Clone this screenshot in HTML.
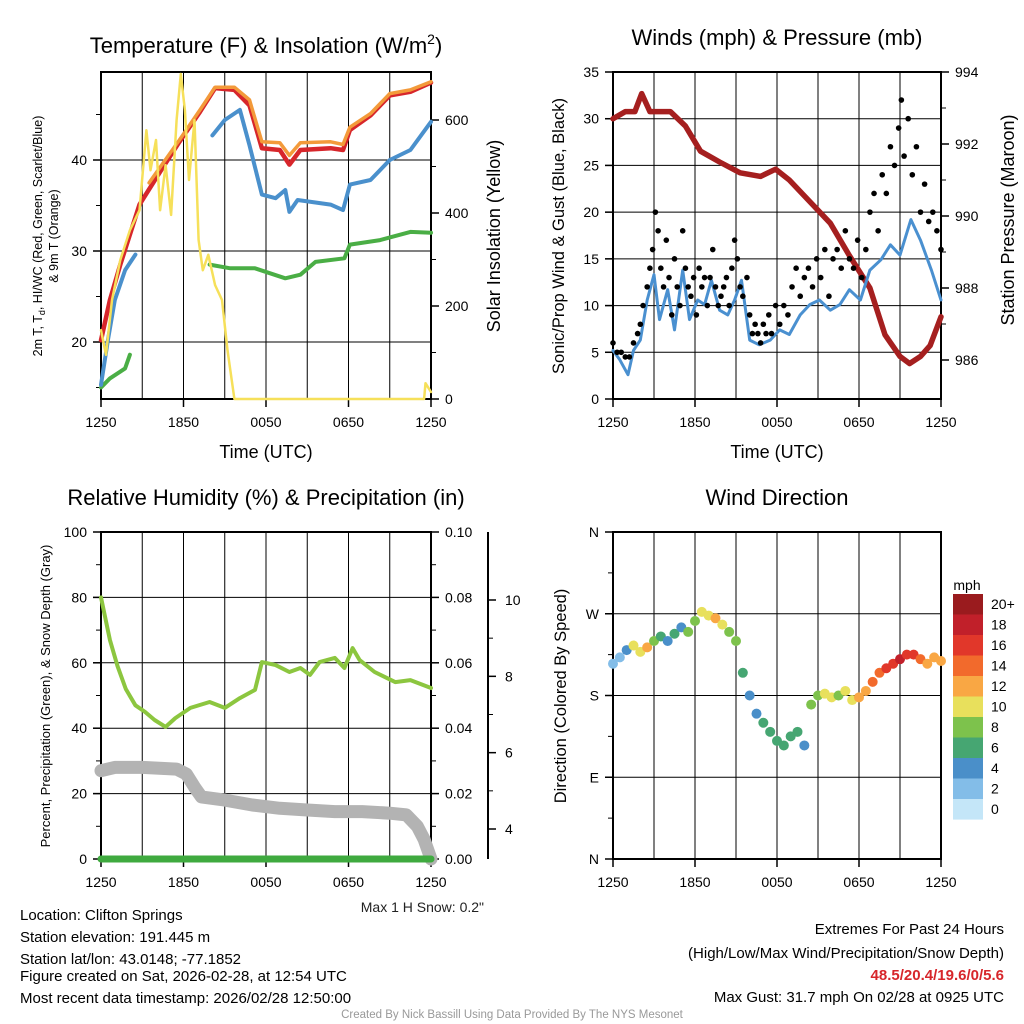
<!DOCTYPE html>
<html><head><meta charset="utf-8">
<style>
html,body{margin:0;padding:0;background:#fff;}
svg{display:block;font-family:"Liberation Sans",Arial,sans-serif;}
</style></head>
<body>
<svg id="chart" width="1024" height="1024" viewBox="0 0 1024 1024" xmlns="http://www.w3.org/2000/svg">
<rect width="1024" height="1024" fill="#fff"/>
<g id="layer"></g>
<text x="266" y="53" font-size="22" text-anchor="middle">Temperature (F) &amp; Insolation (W/m<tspan dy="-9" font-size="14">2</tspan><tspan dy="9">)</tspan></text>
<text x="777" y="45" font-size="22" text-anchor="middle">Winds (mph) &amp; Pressure (mb)</text>
<text x="266" y="505" font-size="22" text-anchor="middle">Relative Humidity (%) &amp; Precipitation (in)</text>
<text x="777" y="505" font-size="22" text-anchor="middle">Wind Direction</text>
<text x="266" y="458" font-size="18" text-anchor="middle">Time (UTC)</text>
<text x="777" y="458" font-size="18" text-anchor="middle">Time (UTC)</text>
<text transform="translate(42,236) rotate(-90)" font-size="12.5" text-anchor="middle">2m T, T<tspan font-size="9" dy="3">d</tspan><tspan dy="-3">, HI/WC (Red, Green, Scarlet/Blue)</tspan></text>
<text transform="translate(58,236) rotate(-90)" font-size="12.5" text-anchor="middle">&amp; 9m T (Orange)</text>
<text transform="translate(500,236) rotate(-90)" font-size="18" text-anchor="middle">Solar Insolation (Yellow)</text>
<text transform="translate(564,236) rotate(-90)" font-size="16.5" text-anchor="middle">Sonic/Prop Wind &amp; Gust (Blue, Black)</text>
<text transform="translate(1014,220) rotate(-90)" font-size="18" text-anchor="middle">Station Pressure (Maroon)</text>
<text transform="translate(50,696) rotate(-90)" font-size="13" text-anchor="middle">Percent, Precipitation (Green), &amp; Snow Depth (Gray)</text>
<text transform="translate(566,696) rotate(-90)" font-size="16.5" text-anchor="middle">Direction (Colored By Speed)</text>
<text x="484" y="912" font-size="14" text-anchor="end" fill="#222">Max 1 H Snow: 0.2"</text>
<text x="967" y="590" font-size="14" text-anchor="middle">mph</text>
<g font-size="15" fill="#000">
<text x="20" y="920">Location: Clifton Springs</text>
<text x="20" y="942">Station elevation: 191.445 m</text>
<text x="20" y="964">Station lat/lon: 43.0148; -77.1852</text>
<text x="20" y="981">Figure created on Sat, 2026-02-28, at 12:54 UTC</text>
<text x="20" y="1003">Most recent data timestamp: 2026/02/28 12:50:00</text>
</g>
<g font-size="15" text-anchor="end">
<text x="1004" y="934">Extremes For Past 24 Hours</text>
<text x="1004" y="958">(High/Low/Max Wind/Precipitation/Snow Depth)</text>
<text x="1004" y="980" font-weight="bold" fill="#d7262b">48.5/20.4/19.6/0/5.6</text>
<text x="1004" y="1002">Max Gust: 31.7 mph On 02/28 at 0925 UTC</text>
</g>
<text x="512" y="1018" font-size="11.5" fill="#999" text-anchor="middle">Created By Nick Bassill Using Data Provided By The NYS Mesonet</text>
</svg>
<script>
// ---- data (hours since 1250 UTC) ----
const xTickLabels = ["1250","1850","0050","0650","1250"];
const tempRedH = [0,0.65,1.4,2.8,4.3,5.7,7.2,8.3,9.7,10.8,11.7,13.0,13.7,14.5,16.7,17.6,18.1,19.6,21.0,22.5,24];
const tempRedV = [20.2,24.6,28.5,35.1,38.7,42,45.3,47.9,47.7,46,41.3,41.1,39.5,41.1,41.3,41.1,43.3,44.9,47.1,47.5,48.5];
const tempOrangeH = [3.5,5.7,7.2,8.3,9.7,10.8,11.7,13.0,13.7,14.5,16.7,17.6,18.1,19.6,21.0,22.5,24];
const tempOrangeV = [37.5,42.2,45.5,48.0,48.0,46.6,42.0,41.9,40.5,41.9,42.0,41.7,43.6,45.1,47.3,47.7,48.6];
const blueSeg1H = [0,0.5,1.0,1.75,2.5];
const blueSeg1V = [15.3,20.2,24.6,27.9,29.6];
const blueSeg2H = [8.1,9.0,10.1,10.8,11.7,12.7,13.4,13.7,14.3,16.7,17.6,18.1,19.6,21.0,22.5,24];
const blueSeg2V = [42.7,44.4,45.5,41.6,36.2,35.8,36.7,34.3,35.6,35.1,34.5,37.3,37.8,40.0,41.1,44.2];
const greenSeg1H = [0,0.65,1.75,2.1];
const greenSeg1V = [15,16,17.1,18.6];
const greenSeg2H = [7.9,9.4,11.2,13.4,14.5,15.6,17.7,18.1,20.3,22.5,24];
const greenSeg2V = [28.5,28.1,28.1,27.0,27.4,28.8,29.2,30.7,31.2,32.1,32.0];
const solarH = [0,0.36,0.8,1.4,2.1,2.8,3.3,3.6,4.0,4.3,4.7,5.1,5.5,5.8,6.1,6.4,6.8,7.1,7.4,7.8,8.3,8.8,9.2,9.7,23.5,23.6,24];
const solarV = [148,95,213,299,363,406,578,492,557,406,503,396,600,699,621,471,600,342,277,310,245,213,105,0,0,34,15];
const windH = [0,0.5,1.1,1.5,2,2.5,3.0,3.4,4,4.5,5.1,5.6,6.2,6.7,7.2,7.8,8.4,8.9,9.4,10,10.7,11.5,12.2,12.9,13.7,14.4,15.1,15.9,16.6,17.3,18.1,18.8,19.6,20.3,21,21.8,22.5,23.3,24];
const windV = [5.2,4.2,2.6,5.2,6.3,10.6,13.3,8.5,11.7,7.4,13.8,8.5,10.6,10.1,12.7,9.5,9.0,10.6,12.7,6.3,5.8,6.3,7.4,6.9,9.0,10.1,10.6,9.5,10.1,11.7,10.6,13.8,14.9,16.5,15.4,19.2,17.0,13.8,10.6];
const gustH = [0,0.3,0.6,0.9,1.2,1.5,1.8,2.0,2.2,2.5,2.7,2.9,3.1,3.3,3.5,3.7,3.9,4.1,4.3,4.5,4.7,4.9,5.1,5.3,5.5,5.7,5.9,6.1,6.3,6.5,6.7,6.9,7.1,7.3,7.5,7.7,7.9,8.1,8.3,8.5,8.7,8.9,9.1,9.3,9.5,9.8,10.0,10.2,10.4,10.6,10.8,11,11.2,11.4,11.6,11.9,12.2,12.5,12.8,13.1,13.4,13.7,14.0,14.3,14.6,14.9,15.2,15.5,15.8,16.1,16.4,16.7,17.0,17.3,17.6,17.9,18.2,18.5,18.8,19.1,19.4,19.7,20.0,20.3,20.6,20.9,21.1,21.3,21.6,21.9,22.2,22.5,22.8,23.1,23.4,23.7,24];
const gustV = [6,5,5,4.5,4.5,6,7,8,10,12,14,16,20,18,14,12,17,13,9,15,12,10,18,14,12,11,13,9,14,12,13,10,13,16,12,10,11,12,13,10,14,17,15,12,11,13,9,7,8,7,6,8,7,9,7,10,8,10,9,12,14,11,13,14,12,15,13,16,11,15,16,14,18,15,14,17,13,16,20,22,18,24,22,27,25,29,32,26,30,24,27,20,23,19,20,18,16];
const pressH = [0,0.9,1.6,2.1,2.7,4.2,5.3,6.4,7.8,9.3,10.8,11.9,12.9,14.4,15.9,17.3,18.8,19.9,21,21.7,22.5,23.2,24];
const pressV = [992.7,992.9,992.9,993.4,992.9,992.9,992.5,991.8,991.5,991.2,991.1,991.3,991.0,990.4,989.8,988.9,988.0,986.7,986.1,985.9,986.1,986.4,987.2];
const rhH = [0,0.65,1.2,1.8,2.5,3.2,3.9,4.7,5.4,6.5,7.9,9.0,10.1,11.2,11.7,12.7,13.7,14.5,15.2,15.9,17,17.7,18.3,18.8,19.9,21.4,22.5,24];
const rhV = [80,67,59,52,47,45,42.5,40.4,43.1,46.2,48,46.2,49.2,51.7,60.2,59.3,57.2,58.4,56.3,60.2,61.5,58.4,64.5,60.9,57.2,54.1,54.7,52.3];
const snowH = [0,1,3,5.5,6.2,6.8,7.3,9,11,13,15,17,19,21,22.2,23,23.5,24];
const snowV = [27,28,28,27.5,26,22,19,18,16.5,15.5,15,14.5,14.5,14,13.5,10,6,0];
const precipH = [0,24];
const precipV = [0,0];
const dirH = [0,0.5,1,1.5,2,2.5,3,3.5,4,4.5,5,5.5,6,6.5,7,7.5,8,8.5,9,9.5,10,10.5,11,11.5,12,12.5,13,13.5,14,14.5,15,15.5,16,16.5,17,17.5,18,18.5,19,19.5,20,20.5,21,21.5,22,22.5,23,23.5,24];
const dirV = [215,222,230,235,228,233,240,245,240,248,255,250,262,272,268,265,258,250,240,205,180,160,150,140,130,125,135,140,125,170,180,182,178,180,185,175,178,185,195,205,210,215,220,225,225,220,215,222,218];
const dirSpd = [2,3,4,10,11,12,9,6,5,7,4,8,9,10,11,12,10,9,8,6,4,5,6,7,6,7,6,7,5,8,9,10,10,9,10,11,12,13,14,15,16,17,18,17,16,15,13,12,12];
const cbLabels = ["20+","18","16","14","12","10","8","6","4","2","0"];
const cbColors = ["#9a1b1e","#c1202a","#e1372a","#f26a2c","#f9a744","#e8e05c","#7dc24c","#46a672","#4a8fc9","#83bde8","#c4e6f8"];

const NS="http://www.w3.org/2000/svg";
const L=document.getElementById('layer');
function mk(tag,a,parent){const e=document.createElementNS(NS,tag);for(const k in a)e.setAttribute(k,a[k]);(parent||L).appendChild(e);return e;}
function lin(d0,d1,r0,r1){return v=>r0+(v-d0)*(r1-r0)/(d1-d0);}

const P1={x0:101,x1:431,y0:72,y1:399};
const P2={x0:613,x1:941,y0:72,y1:399};
const P3={x0:101,x1:431,y0:532,y1:859};
const P4={x0:613,x1:941,y0:532,y1:859};

function pathD(H,V,sx,sy){return H.map((h,i)=>(i?'L':'M')+sx(h).toFixed(1)+','+sy(V[i]).toFixed(1)).join('');}
function line(H,V,sx,sy,col,w,name){
  const e=mk('path',{d:pathD(H,V,sx,sy),fill:'none',stroke:col,'stroke-width':w,'stroke-linejoin':'round','stroke-linecap':'round'});
  
  
  return e;
}
function frame(P,name,hLines,sy,vGrid){
  const g=mk('g',{});
  
  
  const sx=lin(0,24,P.x0,P.x1);
  if(vGrid){for(let h=3;h<24;h+=3){const l=mk('line',{x1:sx(h),x2:sx(h),y1:P.y0,y2:P.y1,stroke:'#000','stroke-width':1},g);}}
  hLines.forEach(v=>{const l=mk('line',{x1:P.x0-8,x2:P.x1,y1:sy(v),y2:sy(v),stroke:'#000','stroke-width':1},g);});
  const b=mk('rect',{x:P.x0,y:P.y0,width:P.x1-P.x0,height:P.y1-P.y0,fill:'none',stroke:'#000','stroke-width':2},g);
  
  
  xTickLabels.forEach((t,i)=>{const x=sx(i*6);
    const tk=mk('line',{x1:x,x2:x,y1:P.y1,y2:P.y1+8,stroke:'#000','stroke-width':1.5},g);
    const tx=mk('text',{x:x,y:P.y1+28,'font-size':14,'text-anchor':'middle'},g);tx.textContent=t;
    
    });
  return sx;
}
function yTicks(P,vals,labels,sy,side,minor){
  vals.forEach((v,i)=>{const y=sy(v);
    const x=side==='L'?P.x0:P.x1;const d=side==='L'?-8:8;
    const tk=mk('line',{x1:x,x2:x+d,y1:y,y2:y,stroke:'#000','stroke-width':1.5});
    const tx=mk('text',{x:side==='L'?x-14:x+14,y:y+5,'font-size':14,'text-anchor':side==='L'?'end':'start'});tx.textContent=labels[i];
    
    });
  (minor||[]).forEach(v=>{const x=side==='L'?P.x0:P.x1;const d=side==='L'?-5:5;const tk=mk('line',{x1:x,x2:x+d,y1:sy(v),y2:sy(v),stroke:'#000','stroke-width':1});});
}

// Panel 1
const sy1=lin(20,40,342,160), sySol=lin(0,600,399,120);
const sx1=frame(P1,'temperature-panel',[20,30,40],sy1,true);
yTicks(P1,[20,30,40],["20","30","40"],sy1,'L',[15,25,35,45]);
yTicks(P1,[0,200,400,600],["0","200","400","600"],sySol,'R',[100,300,500]);
line(greenSeg1H,greenSeg1V,sx1,sy1,'#4aae45',4,'dewpoint-line-start');
line(greenSeg2H,greenSeg2V,sx1,sy1,'#4aae45',4,'dewpoint-line');
line(tempRedH,tempRedV,sx1,sy1,'#d7262b',4.5,'temperature-2m-line');
line(tempOrangeH,tempOrangeV,sx1,sy1,'#f39a3a',3.5,'temperature-9m-line');
line(blueSeg1H,blueSeg1V,sx1,sy1,'#4a90cc',4,'wind-chill-line-start');
line(blueSeg2H,blueSeg2V,sx1,sy1,'#4a90cc',4,'wind-chill-line');
line(solarH,solarV,sx1,sySol,'#f6e05a',2.5,'solar-insolation-line');

// Panel 2
const sy2=lin(0,35,399,72), syP=lin(986,994,360,72);
const sx2=frame(P2,'winds-panel',[5,10,15,20,25,30],sy2,true);
yTicks(P2,[0,5,10,15,20,25,30,35],["0","5","10","15","20","25","30","35"],sy2,'L');
yTicks(P2,[986,988,990,992,994],["986","988","990","992","994"],syP,'R',[987,989,991,993]);
line(pressH,pressV,sx2,syP,'#a51f1f',5.5,'pressure-line');
line(windH,windV,sx2,sy2,'#4a90d0',3,'wind-speed-line');
gustH.forEach((h,i)=>{const c=mk('circle',{cx:sx2(h),cy:sy2(gustV[i]),r:2.8,fill:'#000'});
  
  });

// Panel 3
const sy3=lin(0,100,859,532), syPr=lin(0,0.1,859,532), sySn=lin(4,10,829,600);
const sx3=frame(P3,'humidity-panel',[20,40,60,80],sy3,true);
yTicks(P3,[0,20,40,60,80,100],["0","20","40","60","80","100"],sy3,'L',[10,30,50,70,90]);
yTicks(P3,[0,0.02,0.04,0.06,0.08,0.1],["0.00","0.02","0.04","0.06","0.08","0.10"],syPr,'R',[0.01,0.03,0.05,0.07,0.09]);
const snAx=mk('line',{x1:488,x2:488,y1:532,y2:859,stroke:'#000','stroke-width':2});


[4,6,8,10].forEach(v=>{const y=sySn(v);
  const tk=mk('line',{x1:488,x2:496,y1:y,y2:y,stroke:'#000','stroke-width':1.5});
  const tx=mk('text',{x:505,y:y+5,'font-size':14});tx.textContent=String(v);
  
  });
[5,7,9].forEach(v=>{const tk=mk('line',{x1:488,x2:493,y1:sySn(v),y2:sySn(v),stroke:'#000','stroke-width':1});});
line(snowH,snowV,sx3,sy3,'#b3b3b3',13,'snow-depth-line');
line(rhH,rhV,sx3,sy3,'#8cc63f',4,'relative-humidity-line');
line(precipH,precipV,sx3,syPr,'#3faa3f',7,'precipitation-line');

// Panel 4
const sy4=lin(0,360,859,532);
const sx4=frame(P4,'wind-direction-panel',[90,180,270],sy4,true);
yTicks(P4,[0,90,180,270,360],["N","E","S","W","N"],sy4,'L',[45,135,225,315]);
function spdColor(s){let i=Math.floor(s/2);if(i>10)i=10;return cbColors[10-i];}
dirH.forEach((h,i)=>{const c=mk('circle',{cx:sx4(h),cy:sy4(dirV[i]),r:5,fill:spdColor(dirSpd[i])});
  
  });
cbColors.forEach((col,i)=>{const y=594+i*20.5;
  const r=mk('rect',{x:953,y:y,width:30,height:20.6,fill:col});
  
  
  const t=mk('text',{x:991,y:y+15,'font-size':14});t.textContent=cbLabels[i];
  
  });
</script>
</body></html>
